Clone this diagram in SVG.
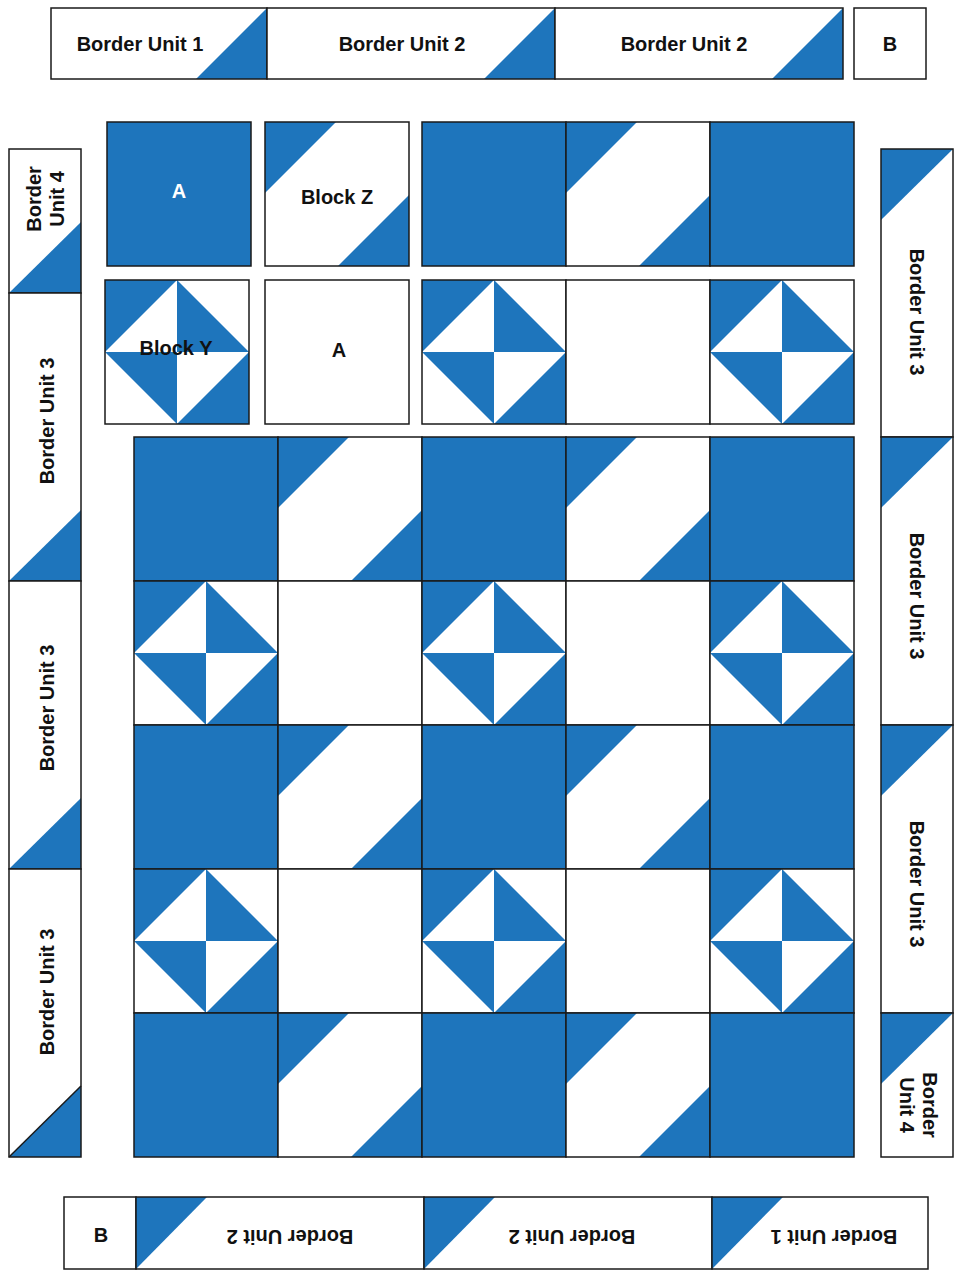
<svg xmlns="http://www.w3.org/2000/svg" xmlns:xlink="http://www.w3.org/1999/xlink" width="958" height="1275" viewBox="0 0 958 1275">
<style>
.b{fill:#1e75bc}
.w{fill:#fff}
.o{fill:none;stroke:#1a1a1a;stroke-width:1.5}
.t{font-family:"Liberation Sans",Arial,sans-serif;font-weight:bold;font-size:20px;fill:#111}
.tw{fill:#fff}
</style>
<defs>
<g id="blue"><rect class="b" x="0" y="0" width="144" height="144"/><rect class="o" x="0" y="0" width="144" height="144"/></g>
<g id="white"><rect class="w" x="0" y="0" width="144" height="144"/><rect class="o" x="0" y="0" width="144" height="144"/></g>
<g id="zb"><rect class="w" x="0" y="0" width="144" height="144"/><polygon class="b" points="0,0 71,0 0,71"/><polygon class="b" points="144,73 144,144 73,144"/><rect class="o" x="0" y="0" width="144" height="144"/></g>
<g id="yb"><rect class="w" x="0" y="0" width="144" height="144"/><polygon class="b" points="0,0 72,0 0,72"/><polygon class="b" points="72,0 144,72 72,72"/><polygon class="b" points="0,72 72,72 72,144"/><polygon class="b" points="144,72 144,144 72,144"/><rect class="o" x="0" y="0" width="144" height="144"/></g>
</defs>

<g id="top-border">
<g id="top-bu1"><rect class="w" x="51" y="8" width="216" height="71"/><polygon class="b" points="196,79 267,79 267,8"/><rect class="o" x="51" y="8" width="216" height="71"/><text class="t" x="140" y="51" text-anchor="middle">Border Unit 1</text></g>
<g id="top-bu2a"><rect class="w" x="267" y="8" width="288" height="71"/><polygon class="b" points="484,79 555,79 555,8"/><rect class="o" x="267" y="8" width="288" height="71"/><text class="t" x="402" y="51" text-anchor="middle">Border Unit 2</text></g>
<g id="top-bu2b"><rect class="w" x="555" y="8" width="288" height="71"/><polygon class="b" points="772,79 843,79 843,8"/><rect class="o" x="555" y="8" width="288" height="71"/><text class="t" x="684" y="51" text-anchor="middle">Border Unit 2</text></g>
<g id="top-b"><rect class="w" x="854" y="8" width="72" height="71"/><rect class="o" x="854" y="8" width="72" height="71"/><text class="t" x="890" y="51" text-anchor="middle">B</text></g>
</g>

<g id="sample-blocks">
<g id="block-a-blue"><use xlink:href="#blue" x="107" y="122"/><text class="t tw" x="179" y="198" text-anchor="middle">A</text></g>
<g id="block-z"><use xlink:href="#zb" x="265" y="122"/><text class="t" x="337" y="204" text-anchor="middle">Block Z</text></g>
<g id="block-y"><use xlink:href="#yb" x="105" y="280"/><text class="t" x="176" y="355" text-anchor="middle">Block Y</text></g>
<g id="block-a-white"><use xlink:href="#white" x="265" y="280"/><text class="t" x="339" y="357" text-anchor="middle">A</text></g>
<g id="strip-1"><use xlink:href="#blue" x="422" y="122"/><use xlink:href="#zb" x="566" y="122"/><use xlink:href="#blue" x="710" y="122"/></g>
<g id="strip-2"><use xlink:href="#yb" x="422" y="280"/><use xlink:href="#white" x="566" y="280"/><use xlink:href="#yb" x="710" y="280"/></g>
</g>

<g id="main-grid">
<g id="row1"><use xlink:href="#blue" x="134" y="437"/><use xlink:href="#zb" x="278" y="437"/><use xlink:href="#blue" x="422" y="437"/><use xlink:href="#zb" x="566" y="437"/><use xlink:href="#blue" x="710" y="437"/></g>
<g id="row2"><use xlink:href="#yb" x="134" y="581"/><use xlink:href="#white" x="278" y="581"/><use xlink:href="#yb" x="422" y="581"/><use xlink:href="#white" x="566" y="581"/><use xlink:href="#yb" x="710" y="581"/></g>
<g id="row3"><use xlink:href="#blue" x="134" y="725"/><use xlink:href="#zb" x="278" y="725"/><use xlink:href="#blue" x="422" y="725"/><use xlink:href="#zb" x="566" y="725"/><use xlink:href="#blue" x="710" y="725"/></g>
<g id="row4"><use xlink:href="#yb" x="134" y="869"/><use xlink:href="#white" x="278" y="869"/><use xlink:href="#yb" x="422" y="869"/><use xlink:href="#white" x="566" y="869"/><use xlink:href="#yb" x="710" y="869"/></g>
<g id="row5"><use xlink:href="#blue" x="134" y="1013"/><use xlink:href="#zb" x="278" y="1013"/><use xlink:href="#blue" x="422" y="1013"/><use xlink:href="#zb" x="566" y="1013"/><use xlink:href="#blue" x="710" y="1013"/></g>
</g>

<g id="left-border">
<g id="left-bu4"><rect class="w" x="9" y="149" width="72" height="144"/><polygon class="b" points="9,293 81,293 81,222"/><rect class="o" x="9" y="149" width="72" height="144"/><text class="t" transform="translate(41,199) rotate(-90)" text-anchor="middle">Border</text><text class="t" transform="translate(64,199) rotate(-90)" text-anchor="middle">Unit 4</text></g>
<g id="left-bu3a"><rect class="w" x="9" y="293" width="72" height="288"/><polygon class="b" points="9,581 81,581 81,510"/><rect class="o" x="9" y="293" width="72" height="288"/><text class="t" transform="translate(54,421) rotate(-90)" text-anchor="middle">Border Unit 3</text></g>
<g id="left-bu3b"><rect class="w" x="9" y="581" width="72" height="288"/><polygon class="b" points="9,869 81,869 81,798"/><rect class="o" x="9" y="581" width="72" height="288"/><text class="t" transform="translate(54,708) rotate(-90)" text-anchor="middle">Border Unit 3</text></g>
<g id="left-bu3c"><rect class="w" x="9" y="869" width="72" height="288"/><polygon class="b" points="9,1157 81,1157 81,1086"/><rect class="o" x="9" y="869" width="72" height="288"/><line class="o" x1="9" y1="1157" x2="81" y2="1086"/><text class="t" transform="translate(54,992) rotate(-90)" text-anchor="middle">Border Unit 3</text></g>
</g>

<g id="right-border">
<g id="right-bu3a"><rect class="w" x="881" y="149" width="72" height="288"/><polygon class="b" points="881,149 953,149 881,220"/><rect class="o" x="881" y="149" width="72" height="288"/><text class="t" transform="translate(910,312) rotate(90)" text-anchor="middle">Border Unit 3</text></g>
<g id="right-bu3b"><rect class="w" x="881" y="437" width="72" height="288"/><polygon class="b" points="881,437 953,437 881,508"/><rect class="o" x="881" y="437" width="72" height="288"/><text class="t" transform="translate(910,596) rotate(90)" text-anchor="middle">Border Unit 3</text></g>
<g id="right-bu3c"><rect class="w" x="881" y="725" width="72" height="288"/><polygon class="b" points="881,725 953,725 881,796"/><rect class="o" x="881" y="725" width="72" height="288"/><text class="t" transform="translate(910,884) rotate(90)" text-anchor="middle">Border Unit 3</text></g>
<g id="right-bu4"><rect class="w" x="881" y="1013" width="72" height="144"/><polygon class="b" points="881,1013 953,1013 881,1084"/><rect class="o" x="881" y="1013" width="72" height="144"/><text class="t" transform="translate(923,1105) rotate(90)" text-anchor="middle">Border</text><text class="t" transform="translate(900,1105) rotate(90)" text-anchor="middle">Unit 4</text></g>
</g>

<g id="bottom-border">
<g id="bot-b"><rect class="w" x="64" y="1197" width="72" height="72"/><rect class="o" x="64" y="1197" width="72" height="72"/><text class="t" x="101" y="1242" text-anchor="middle">B</text></g>
<g id="bot-bu2a"><rect class="w" x="136" y="1197" width="288" height="72"/><polygon class="b" points="136,1197 207,1197 136,1269"/><rect class="o" x="136" y="1197" width="288" height="72"/><text class="t" transform="translate(290,1230) rotate(180)" text-anchor="middle">Border Unit 2</text></g>
<g id="bot-bu2b"><rect class="w" x="424" y="1197" width="288" height="72"/><polygon class="b" points="424,1197 495,1197 424,1269"/><rect class="o" x="424" y="1197" width="288" height="72"/><text class="t" transform="translate(572,1230) rotate(180)" text-anchor="middle">Border Unit 2</text></g>
<g id="bot-bu1"><rect class="w" x="712" y="1197" width="216" height="72"/><polygon class="b" points="712,1197 783,1197 712,1269"/><rect class="o" x="712" y="1197" width="216" height="72"/><text class="t" transform="translate(834,1230) rotate(180)" text-anchor="middle">Border Unit 1</text></g>
</g>
</svg>
